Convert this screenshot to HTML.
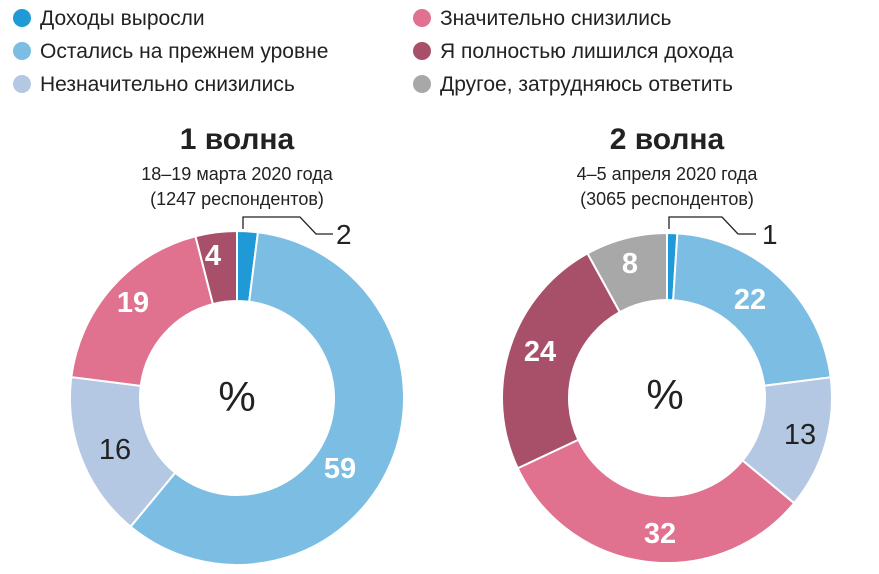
<!DOCTYPE html><html><head><meta charset="utf-8"><style>
body{margin:0;background:#fff;width:879px;height:569px;overflow:hidden;font-family:"Liberation Sans",sans-serif}
</style></head><body>
<svg id="s" width="879" height="569" xmlns="http://www.w3.org/2000/svg" font-family="Liberation Sans, sans-serif">
<g font-size="21" fill="#222">
<circle cx="22" cy="18" r="9" fill="#1f9ad6"/><text x="40" y="25">Доходы выросли</text>
<circle cx="22" cy="51" r="9" fill="#7bbde3"/><text x="40" y="58">Остались на прежнем уровне</text>
<circle cx="22" cy="84" r="9" fill="#b4c8e4"/><text x="40" y="91">Незначительно снизились</text>
<circle cx="422" cy="18" r="9" fill="#e0718f"/><text x="440" y="25">Значительно снизились</text>
<circle cx="422" cy="51" r="9" fill="#a8506a"/><text x="440" y="58">Я полностью лишился дохода</text>
<circle cx="422" cy="84" r="9" fill="#a8a8a8"/><text x="440" y="91">Другое, затрудняюсь ответить</text>
</g>
<g text-anchor="middle" fill="#222">
<text x="237" y="149" font-size="30" font-weight="bold">1 волна</text>
<text x="237" y="180" font-size="18">18–19 марта 2020 года</text>
<text x="237" y="205" font-size="18">(1247 респондентов)</text>
<text x="667" y="149" font-size="30" font-weight="bold">2 волна</text>
<text x="667" y="180" font-size="18">4–5 апреля 2020 года</text>
<text x="667" y="205" font-size="18">(3065 респондентов)</text>
</g>
<g id="d"></g>
<g fill="none" stroke="#222" stroke-width="1.3">
<polyline points="243,229 243,217 300,217 316,234 333,234"/>
<polyline points="669,229 669,217 722,217 738,234 756,234"/>
</g>
<g font-size="28" fill="#222"><text x="336" y="244">2</text><text x="762" y="244">1</text></g>
<g font-size="29" font-weight="bold" text-anchor="middle" fill="#fff">
<text x="213" y="265">4</text><text x="133" y="312">19</text><text x="115" y="459" fill="#222" font-weight="normal">16</text><text x="340" y="478">59</text>
<text x="630" y="273">8</text><text x="750" y="309">22</text><text x="540" y="361">24</text><text x="800" y="444" fill="#222" font-weight="normal">13</text><text x="660" y="543">32</text>
</g>
<g font-size="42" text-anchor="middle" fill="#222"><text x="237" y="411">%</text><text x="665" y="409">%</text></g>
</svg>
<script>
var cols=["#1f9ad6","#7bbde3","#b4c8e4","#e0718f","#a8506a","#a8a8a8"];
function donut(cx,cy,R,r,vals,ci){var g=document.getElementById('d'),a=0,tot=vals.reduce((x,y)=>x+y,0),s="";
vals.forEach(function(v,i){var a0=a/tot*2*Math.PI,a1=(a+v)/tot*2*Math.PI;a+=v;
var p=t=>[Math.sin(t),-Math.cos(t)],P0=p(a0),P1=p(a1),L=(a1-a0)>Math.PI?1:0;
s+='<path d="M'+(cx+R*P0[0])+' '+(cy+R*P0[1])+'A'+R+' '+R+' 0 '+L+' 1 '+(cx+R*P1[0])+' '+(cy+R*P1[1])+'L'+(cx+r*P1[0])+' '+(cy+r*P1[1])+'A'+r+' '+r+' 0 '+L+' 0 '+(cx+r*P0[0])+' '+(cy+r*P0[1])+'Z" fill="'+cols[ci[i]]+'" stroke="#fff" stroke-width="2"/>';});
g.innerHTML+=s;}
donut(237,398,167,97,[2,59,16,19,4],[0,1,2,3,4]);
donut(667,398,165,98,[1,22,13,32,24,8],[0,1,2,3,4,5]);
</script>
</body></html>
